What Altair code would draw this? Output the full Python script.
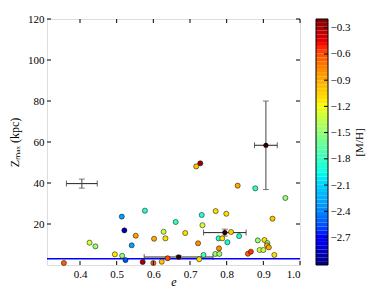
import altair as alt
import pandas as pd
import numpy as np

# ---- scatter data: eccentricity, Zmax (kpc), [M/H] ----
ecc = [0.514, 0.577, 0.521, 0.552, 0.628, 0.602, 0.633, 0.426, 0.442, 0.541,
       0.495, 0.515, 0.524, 0.571, 0.600, 0.623, 0.356, 0.639, 0.725, 0.737,
       0.769, 0.780, 0.858, 0.866, 0.890, 0.900, 0.930, 0.728, 0.717, 0.830,
       0.878, 0.960, 0.732, 0.770, 0.799, 0.925, 0.661, 0.734, 0.687, 0.812,
       0.834, 0.778, 0.788, 0.802, 0.722, 0.885, 0.903, 0.911, 0.910, 0.915,
       0.779]
zmax = [23.6, 26.5, 16.9, 14.3, 16.2, 12.8, 13.0, 10.9, 9.1, 9.6,
        5.2, 4.5, 2.4, 1.5, 1.0, 1.6, 1.0, 3.3, 2.8, 4.9,
        5.4, 5.4, 5.5, 6.5, 7.3, 7.3, 4.9, 49.6, 48.1, 38.7,
        37.4, 32.7, 24.4, 26.3, 25.0, 22.6, 21.0, 19.4, 15.6, 16.1,
        14.1, 13.0, 13.0, 11.1, 10.6, 12.0, 12.2, 10.7, 9.6, 8.6,
        8.1]
feh = [-2.3, -1.85, -2.9, -0.85, -1.35, -0.9, -1.1, -1.3, -1.5, -2.3,
       -1.15, -1.5, -2.55, -0.3, -0.7, -1.0, -0.65, -0.6, -1.1, -1.75,
       -1.5, -1.45, -0.65, -0.55, -1.3, -1.35, -1.1, -0.28, -1.0, -0.9,
       -1.8, -1.5, -1.85, -1.1, -1.1, -1.0, -1.8, -1.3, -1.1, -1.05,
       -1.9, -1.85, -1.1, -1.9, -0.8, -1.5, -1.1, -1.5, -0.9, -0.9,
       -0.8]

# ---- error-bar points ----
eb_e = [0.405, 0.669, 0.795, 0.907]
eb_z = [39.7, 3.9, 15.8, 58.4]
eb_de = [0.042, 0.094, 0.058, 0.031]
eb_dz = [2.2, 0.8, 1.7, 21.6]
eb_marker = [0, 1, 1, 1]

baseline = [3.0]

x_ticks = [0.4, 0.5, 0.6, 0.7, 0.8, 0.9, 1.0]
y_ticks = [20, 40, 60, 80, 100, 120]
cb_ticks = [-0.3, -0.6, -0.9, -1.2, -1.5, -1.8, -2.1, -2.4, -2.7]

x_dom = [0.31, 1.0]
y_dom = [0, 120]
c_min, c_max = -3.015, -0.2

# jet colormap stops
jet_t = [0.0, 0.11, 0.125, 0.34, 0.35, 0.375, 0.64, 0.65, 0.66, 0.89, 0.91, 1.0]
jet_c = ["#00007f", "#0000ff", "#0000ff", "#00dbff", "#00e5f7", "#14ffe2",
         "#eeff08", "#f7ff00", "#ffec00", "#ff1300", "#e80000", "#7f0000"]
cscale = alt.Scale(domain=[c_min + t * (c_max - c_min) for t in jet_t], range=jet_c)

W, H = 253, 246
FONT = "Liberation Serif"

pts = pd.DataFrame({"e": ecc, "z": zmax, "m": feh})
eb = pd.DataFrame({"e": eb_e, "z": eb_z, "de": eb_de, "dz": eb_dz, "mk": eb_marker})
eb["elo"] = eb["e"] - eb["de"]
eb["ehi"] = eb["e"] + eb["de"]
eb["zlo"] = eb["z"] - eb["dz"]
eb["zhi"] = eb["z"] + eb["dz"]
caps_x = pd.DataFrame({"e": list(eb["elo"]) + list(eb["ehi"]), "z": list(eb["z"]) * 2})
caps_y = pd.DataFrame({"e": list(eb["e"]) * 2, "z": list(eb["zlo"]) + list(eb["zhi"])})
centers = eb[eb["mk"] == 1]

xs = alt.Scale(domain=x_dom, nice=False, zero=False)
ys = alt.Scale(domain=y_dom, nice=False, zero=False)
xax = alt.Axis(values=x_ticks, format=".1f", title="e", titleFontStyle="italic",
               ticks=False, domain=False, grid=False, labelPadding=3,
               titleY=20, titleBaseline="alphabetic",
               labelFont=FONT, titleFont=FONT, labelFontSize=11, titleFontSize=12,
               titleFontWeight="normal", labelColor="black", titleColor="black")
yax = alt.Axis(values=y_ticks, title="Zₘₐₓ (kpc)", ticks=False, domain=False, grid=False,
               labelPadding=3, titlePadding=6, labelFont=FONT, titleFont=FONT,
               labelFontSize=11, titleFontSize=12, titleFontWeight="normal",
               labelColor="black", titleColor="black")

base_x = alt.X("e:Q", scale=xs, axis=xax)
base_y = alt.Y("z:Q", scale=ys, axis=yax)

line = alt.Chart(pd.DataFrame({"z": baseline})).mark_rule(color="#0000ff", strokeWidth=1.5).encode(y=base_y)

eb_h = alt.Chart(eb).mark_rule(color="#222222", strokeWidth=1).encode(
    x=alt.X("elo:Q", scale=xs, axis=xax), x2="ehi:Q", y=alt.Y("z:Q", scale=ys, axis=yax))
eb_v = alt.Chart(eb).mark_rule(color="#444444", strokeWidth=1).encode(
    x=alt.X("e:Q", scale=xs, axis=xax), y=alt.Y("zlo:Q", scale=ys, axis=yax), y2="zhi:Q")
cap_h = alt.Chart(caps_x).mark_tick(orient="vertical", size=6, thickness=1, color="#222222").encode(
    x=base_x, y=base_y)
cap_v = alt.Chart(caps_y).mark_tick(orient="horizontal", size=6, thickness=1, color="#444444").encode(
    x=base_x, y=base_y)

scatter = alt.Chart(pts).mark_circle(size=26, stroke="black", strokeWidth=0.5, opacity=1).encode(
    x=base_x, y=base_y, color=alt.Color("m:Q", scale=cscale, legend=None))
ctr = alt.Chart(centers).mark_circle(size=26, color="#2b0000", opacity=1).encode(x=base_x, y=base_y)

# inward ticks on all four sides
xt = pd.DataFrame({"e": x_ticks})
yt = pd.DataFrame({"z": y_ticks})
tk_b = alt.Chart(xt).mark_rule(color="black").encode(x=base_x, y=alt.value(H), y2=alt.value(H - 4))
tk_t = alt.Chart(xt).mark_rule(color="black").encode(x=base_x, y=alt.value(0), y2=alt.value(4))
tk_l = alt.Chart(yt).mark_rule(color="black").encode(y=base_y, x=alt.value(0), x2=alt.value(4))
tk_r = alt.Chart(yt).mark_rule(color="black").encode(y=base_y, x=alt.value(W), x2=alt.value(W - 4))

main = alt.layer(line, eb_h, eb_v, cap_h, cap_v, scatter, ctr, tk_b, tk_t, tk_l, tk_r)

# colorbar
n = 64
edges = np.linspace(c_min, c_max, n + 1)
cb = pd.DataFrame({"lo": edges[:-1], "hi": edges[1:], "mid": (edges[:-1] + edges[1:]) / 2})
cys = alt.Scale(domain=[c_min, c_max], nice=False, zero=False)
cax = alt.Axis(orient="right", offset=28, values=cb_ticks, title="[M/H]",
               labelExpr="replace(format(datum.value, '.1f'), '-', '−')",
               ticks=False, domain=False, grid=False, labelPadding=2, titlePadding=15,
               titleAngle=270, labelFont=FONT, titleFont=FONT, labelFontSize=11,
               titleFontSize=11, titleFontWeight="normal", labelColor="black", titleColor="black")
cbar = alt.Chart(cb).mark_rect().encode(
    x=alt.value(269), x2=alt.value(281),
    y=alt.Y("lo:Q", scale=cys, axis=cax), y2="hi:Q",
    color=alt.Color("mid:Q", scale=cscale, legend=None))
cbox = alt.Chart(pd.DataFrame({"lo": [c_min], "hi": [c_max]})).mark_rect(
    fillOpacity=0, stroke="black", strokeWidth=1).encode(
    x=alt.value(269), x2=alt.value(281), y=alt.Y("lo:Q", scale=cys, axis=cax), y2="hi:Q")
cbt = alt.Chart(pd.DataFrame({"lo": cb_ticks})).mark_rule(color="black").encode(
    y=alt.Y("lo:Q", scale=cys, axis=cax), x=alt.value(281), x2=alt.value(277))

chart = alt.layer(main, alt.layer(cbar, cbox, cbt)).resolve_scale(y="independent").properties(
    width=W, height=H,
    autosize=alt.AutoSizeParams(type="none"),
    padding={"left": 39, "top": 11, "right": 68, "bottom": 22},
).configure_view(stroke="black", strokeWidth=1).configure(background="white")

chart.save("out.html", embed_options={"renderer": "svg", "actions": False})
